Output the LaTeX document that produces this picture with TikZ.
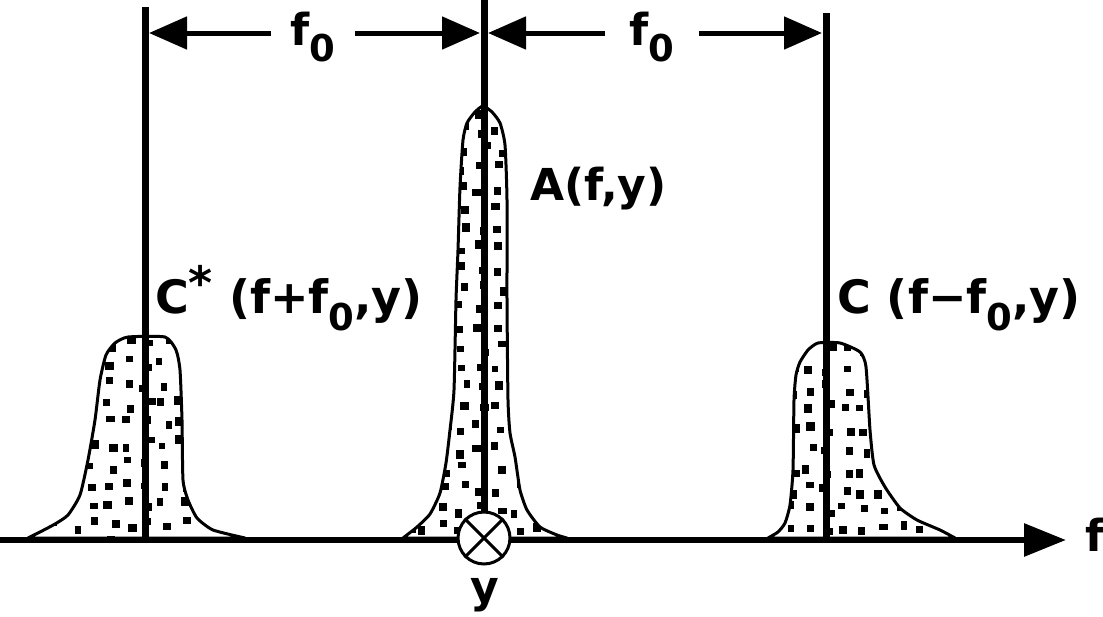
\documentclass[tikz,border=0pt]{standalone}
\usepackage{fontspec}
\setmainfont{DejaVu Sans}
\usetikzlibrary{arrows.meta}
\newcommand\subz[1]{\raisebox{-0.38em}{\fontsize{37}{37}\selectfont #1}}
\newcommand\speckle[4]{%
  \foreach \i in {0,...,#2}{\foreach \j in {0,...,#4}{%
    \pgfmathsetmacro\px{#1+18*\i+10*rnd}%
    \pgfmathsetmacro\py{#3+20*\j+11*rnd}%
    \pgfmathsetmacro\sw{6+3*rnd}%
    \pgfmathsetmacro\sh{6+3*rnd}%
    \fill (\px,\py) rectangle ++(\sw,\sh);}}}
\begin{document}
\begin{tikzpicture}[x=1pt,y=-1pt,
  lab/.style={font=\bfseries\fontsize{44}{50}\selectfont, inner sep=0pt},
  biglab/.style={font=\bfseries\fontsize{46}{50}\selectfont, inner sep=0pt},
  dimline/.style={line width=5pt, -{Triangle[length=38pt,width=32pt]}},
  vline/.style={line width=7pt},
  outline/.style={line width=3pt, line join=round}]
\useasboundingbox (0,0) rectangle (1103,616);
\pgfmathsetseed{11}
% peaks
\def\leftpeak{plot[smooth,tension=0.35] coordinates {(28,538) (40,532) (55,524) (68,515) (80,495) (88,460) (95,420) (100,380) (106,355) (115,343) (128,337) (165,337) (176,350) (180,370) (182,420) (183,480) (188,500) (197,518) (213,530) (245,538)} -- cycle}
\def\midpeak{plot[smooth,tension=0.35] coordinates {(403,538) (417,527) (430,514) (440,493) (446,463) (450,430) (454,390) (456,300) (458,250) (460,187) (463,140) (467,123) (475,112) (483,106) (492,112) (500,123) (505,145) (507,200) (507,300) (508,400) (510,433) (515,457) (520,490) (527,510) (540,527) (557,535) (567,538)} -- cycle}
\def\rightpeak{plot[smooth,tension=0.35] coordinates {(768,538) (778,532) (785,523) (790,505) (793,470) (794,400) (796,375) (800,362) (808,350) (818,343) (840,343) (860,352) (866,367) (870,430) (874,465) (885,487) (900,508) (917,520) (940,530) (955,538)} -- cycle}
\fill[white] \leftpeak;
\fill[white] \midpeak;
\fill[white] \rightpeak;
\begin{scope}\clip \leftpeak; \speckle{30}{12}{335}{10}\end{scope}
\begin{scope}\clip \midpeak; \speckle{400}{9}{100}{22}\end{scope}
\begin{scope}\clip \rightpeak; \speckle{765}{11}{340}{10}\end{scope}
\draw[outline] \leftpeak;
\draw[outline] \midpeak;
\draw[outline] \rightpeak;
% axis
\coordinate (ax0) at (0,540);
\coordinate (axT) at (1066,540);
\draw[line width=6pt, -{Triangle[length=42pt,width=32pt]}] (ax0) -- (axT);
\node[lab, anchor=base west] (flab) at (1085,551) {f};
% vertical lines
\node[circle, draw, line width=3pt, fill=white, minimum size=52pt, inner sep=0pt] (mix) at (484,538) {};
\coordinate (Ltop) at (145,7);
\coordinate (Lbot) at (145,540);
\coordinate (Mtop) at (484,0);
\coordinate (Rtop) at (826,13);
\coordinate (Rbot) at (826,540);
\draw[vline] (Ltop) -- (Lbot);
\draw[vline] (Mtop) -- (mix.north);
\draw[vline] (Rtop) -- (Rbot);
\draw[line width=3pt] (mix.north west) -- (mix.south east);
\draw[line width=3pt] (mix.north east) -- (mix.south west);
\node[lab, anchor=base] (ylab) at (485,602) {y};
% dimension arrows
\coordinate (L) at (149,33);
\coordinate (Ml) at (480,33);
\coordinate (Mr) at (488,33);
\coordinate (R) at (822,33);
\node[lab, anchor=base, inner xsep=19pt] (fa) at (313,45) {f\subz{0}};
\node[lab, anchor=base, inner xsep=24pt] (fb) at (652,45) {f\subz{0}};
\draw[dimline] (fa.west |- L) -- (L);
\draw[dimline] (fa.east |- L) -- (Ml);
\draw[dimline] (fb.west |- L) -- (Mr);
\draw[dimline] (fb.east |- L) -- (R);
% labels
\node[lab, anchor=base west] (alab) at (530,200) {A(f,y)};
\node[biglab, anchor=base west] (cslab) at (155,313) {C\raisebox{0.3em}{*} (f+f\subz{0},y)};
\node[biglab, anchor=base west] (clab) at (837,313) {C (f−f\subz{0},y)};
\end{tikzpicture}
\end{document}
